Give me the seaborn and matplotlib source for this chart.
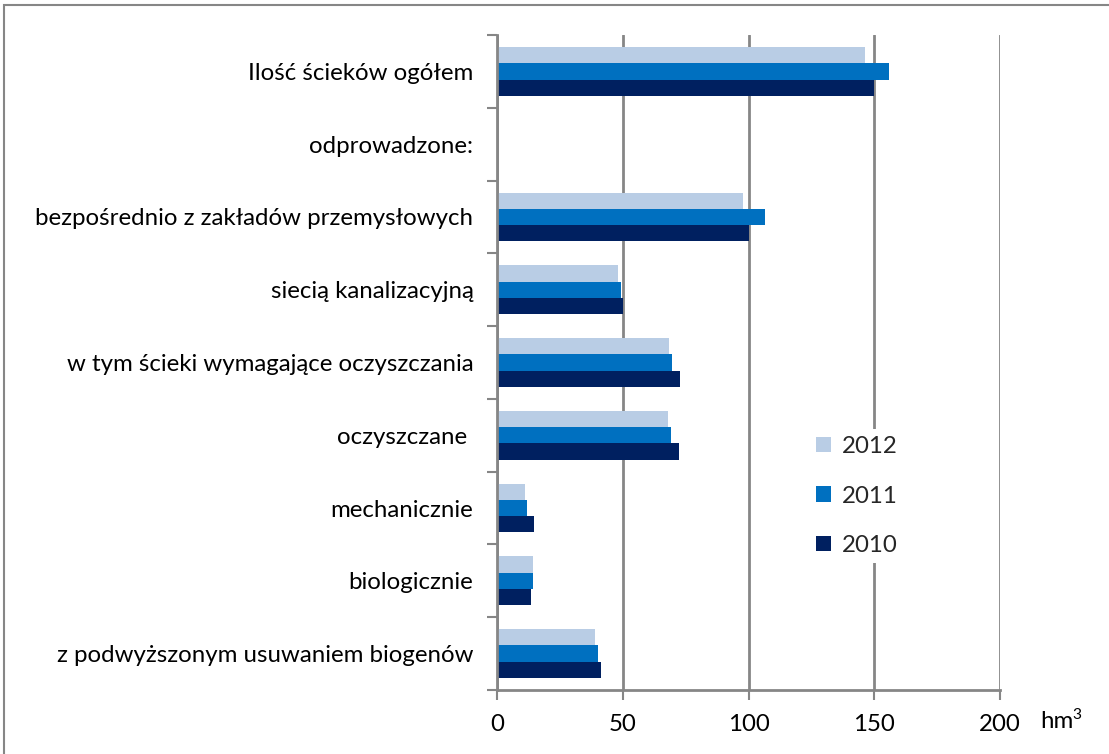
import numpy as np
import pandas as pd
import matplotlib
matplotlib.use("Agg")
import matplotlib.pyplot as plt
from matplotlib.patches import Rectangle
import seaborn as sns

categories = [
    "Ilość ścieków ogółem",
    "odprowadzone:",
    "bezpośrednio z zakładów przemysłowych",
    "siecią kanalizacyjną",
    "w tym ścieki wymagające oczyszczania",
    "oczyszczane ",
    "mechanicznie",
    "biologicznie",
    "z podwyższonym usuwaniem biogenów",
]
years = ["2012", "2011", "2010"]
values_2012 = [146.5, np.nan, 98.0, 48.1, 68.5, 68.1, 11.3, 14.5, 38.8]
values_2011 = [156.0, np.nan, 106.4, 49.5, 69.5, 69.3, 12.1, 14.2, 40.0]
values_2010 = [150.0, np.nan, 100.2, 50.0, 72.7, 72.3, 14.9, 13.7, 41.2]
colors = ["#B9CDE5", "#0070C0", "#002060"]
x_ticks = [0, 50, 100, 150, 200]

rows = []
for yr, vals in zip(years, [values_2012, values_2011, values_2010]):
    for c, v in zip(categories, vals):
        rows.append({"category": c, "year": yr, "value": v})
df = pd.DataFrame(rows)

sns.set_theme(style="white")
plt.rcParams["font.family"] = ["Lato", "DejaVu Sans"]
FS = 17.3

W, H = 1109, 754
fig = plt.figure(figsize=(W / 100, H / 100), dpi=100)
ax = fig.add_axes([497 / W, 1 - 690 / H, (1000 - 497) / W, (690 - 35) / H])

sns.barplot(data=df, y="category", x="value", hue="year", order=categories,
            hue_order=years, palette=colors, width=0.67, orient="h",
            errorbar=None, ax=ax, saturation=1, edgecolor="none")

gray = "#868686"
ax.set_xlim(0, 200)
ax.set_ylim(len(categories) - 0.5, -0.5)
ax.set_xticks(x_ticks)
ax.set_xticklabels([str(t) for t in x_ticks])
ax.grid(axis="x", color=gray, linewidth=2)
ax.set_axisbelow(True)
ax.set_xlabel("")
ax.set_ylabel("")
for s in ["top", "right"]:
    ax.spines[s].set_visible(False)
for s in ["left", "bottom"]:
    ax.spines[s].set_color(gray)
    ax.spines[s].set_linewidth(2)

ax.tick_params(axis="y", which="major", length=0, pad=17, labelsize=FS, labelcolor="black")
ax.set_yticks(np.arange(-0.5, len(categories) + 0.5, 1), minor=True)
ax.tick_params(axis="y", which="minor", length=7, width=1.5, color=gray, left=True)
ax.tick_params(axis="x", which="major", length=7, width=1.5, color=gray, bottom=True,
               pad=10, labelsize=FS, labelcolor="black")

fig.text(1040 / W, 1 - 722 / H, "hm", fontsize=FS, ha="left", va="center", color="black")
fig.text(1072 / W, 1 - 715 / H, "3", fontsize=FS * 0.65, ha="left", va="center", color="black")

leg = ax.legend(loc="upper left", bbox_to_anchor=(797 / W, 1 - 417 / H),
                bbox_transform=fig.transFigure, frameon=True, fontsize=FS,
                handlelength=0.6, handleheight=0.6, handletextpad=0.45,
                labelspacing=1.18, borderpad=0.3)
leg.get_frame().set_edgecolor("none")
leg.get_frame().set_facecolor("white")
leg.get_frame().set_alpha(1)

fig.patches.append(Rectangle((4 / W, -0.1), 1.2, (H - 5) / H + 0.1,
                             transform=fig.transFigure, fill=False,
                             edgecolor=gray, linewidth=1.5))

fig.savefig("out.png", dpi=100)
